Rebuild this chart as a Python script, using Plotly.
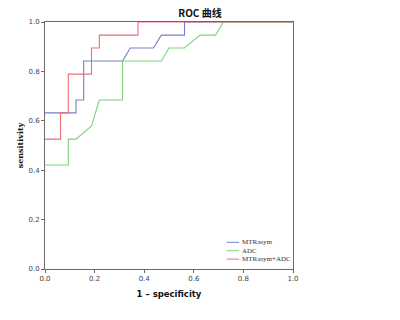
import plotly.graph_objects as go

# Data
series_names = ["MTRasym", "ADC", "MTRasym+ADC"]
series_colors = ["#7080c8", "#7fd07f", "#ee6e78"]

mtr_x = [0, 0.125, 0.125, 0.156, 0.156, 0.3125, 0.344, 0.4375, 0.469, 0.5625, 0.5625, 1.0]
mtr_y = [0.632, 0.632, 0.684, 0.684, 0.842, 0.842, 0.895, 0.895, 0.947, 0.947, 1.0, 1.0]

adc_x = [0, 0.094, 0.094, 0.125, 0.1875, 0.219, 0.3125, 0.3125, 0.469, 0.5, 0.5625, 0.625, 0.6875, 0.719, 1.0]
adc_y = [0.421, 0.421, 0.526, 0.526, 0.579, 0.684, 0.684, 0.842, 0.842, 0.895, 0.895, 0.947, 0.947, 1.0, 1.0]

comb_x = [0, 0.0625, 0.0625, 0.094, 0.094, 0.1875, 0.1875, 0.219, 0.219, 0.375, 0.375, 1.0]
comb_y = [0.526, 0.526, 0.632, 0.632, 0.789, 0.789, 0.895, 0.895, 0.947, 0.947, 1.0, 1.0]

tick_vals = [0.0, 0.2, 0.4, 0.6, 0.8, 1.0]
tick_text = ["0.0", "0.2", "0.4", "0.6", "0.8", "1.0"]

xs = [mtr_x, adc_x, comb_x]
ys = [mtr_y, adc_y, comb_y]

fig = go.Figure()
for name, color, x, y in zip(series_names, series_colors, xs, ys):
    fig.add_trace(go.Scatter(x=x, y=y, mode="lines", name=name,
                             line=dict(color=color, width=1.1), showlegend=False))

# Manual legend (bottom-right inside plot)
leg_y = [0.108, 0.074, 0.040]
for name, color, ly in zip(series_names, series_colors, leg_y):
    fig.add_shape(type="line", xref="paper", yref="paper",
                  x0=0.733, x1=0.783, y0=ly, y1=ly,
                  line=dict(color=color, width=1))
    fig.add_annotation(xref="paper", yref="paper", x=0.786, y=ly, text=name,
                       showarrow=False, xanchor="left", yanchor="middle",
                       font=dict(family="Liberation Serif, Times New Roman, serif",
                                 size=7, color="#333"))

axis_common = dict(
    range=[0, 1], tickvals=tick_vals, ticktext=tick_text,
    showgrid=False, zeroline=False, showline=True, mirror=True,
    linecolor="#6a6a6a", linewidth=1, ticks="outside", ticklen=3,
    tickcolor="#6a6a6a", tickwidth=1,
    tickfont=dict(family="DejaVu Sans, sans-serif", size=7, color="#444"),
)

fig.update_layout(
    width=400, height=320,
    margin=dict(l=45, r=107, t=22, b=51),
    paper_bgcolor="white", plot_bgcolor="white",
    showlegend=False,
    title=dict(text="<b>ROC 曲线</b>", x=0.5, xanchor="center", y=0.958, yanchor="middle",
               font=dict(family="Noto Sans CJK SC, sans-serif", size=10, color="#111")),
    xaxis=dict(**axis_common,
               title=dict(text="<b>1 – specificity</b>", standoff=8,
                          font=dict(family="DejaVu Sans, sans-serif", size=8.5, color="#111"))),
    yaxis=dict(**axis_common,
               title=dict(text="<b>sensitivity</b>", standoff=3,
                          font=dict(family="DejaVu Serif, serif", size=8, color="#111"))),
)

fig.write_html("out.html", config={"displayModeBar": False},
               post_script="document.body.style.margin='0';")
